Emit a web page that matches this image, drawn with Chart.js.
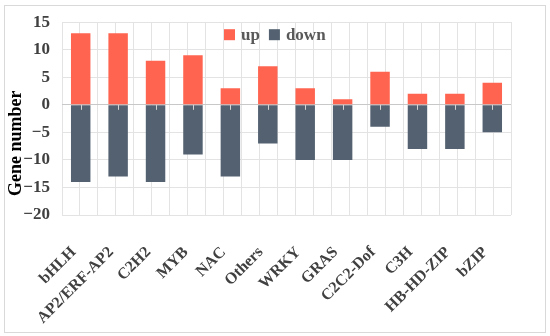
<!DOCTYPE html>
<html>
<head>
<meta charset="utf-8">
<script src="https://cdn.jsdelivr.net/npm/chart.js@4/dist/chart.umd.min.js"></script>
<style>
  html,body{margin:0;padding:0;background:#fff;}
  #wrap{position:relative;width:550px;height:336px;}
  #frame{position:absolute;left:4px;top:5px;width:540px;height:326px;border:1px solid #d9d9d9;pointer-events:none;}
</style>
</head>
<body>
<div id="wrap">
<canvas id="c" width="550" height="336"></canvas>
<div id="frame"></div>
</div>
<script>
const categories = ["bHLH","AP2/ERF-AP2","C2H2","MYB","NAC","Others","WRKY","GRAS","C2C2-Dof","C3H","HB-HD-ZIP","bZIP"];
const upValues   = [13, 13, 8, 9, 3, 7, 3, 1, 6, 2, 2, 4];
const downValues = [-14, -13, -14, -9, -13, -7, -10, -10, -4, -8, -8, -5];
const yTicks = [-20, -15, -10, -5, 0, 5, 10, 15];
const yTitle = 'Gene number';

const serif = "'Liberation Serif', 'Times New Roman', serif";
const gridColor = '#e3e3e3';

const extras = {
  id: 'extras',
  afterDatasetsDraw(chart) {
    const ctx = chart.ctx, a = chart.chartArea;
    const ys = chart.scales.y, xs = chart.scales.x;
    const y0 = ys.getPixelForValue(0);
    ctx.save();
    ctx.strokeStyle = '#d4d4d4';
    ctx.lineWidth = 1;
    categories.forEach((c, i) => {
      const x = Math.round(xs.getPixelForValue(i)) + 0.5;
      ctx.beginPath(); ctx.moveTo(x, y0); ctx.lineTo(x, y0 + 5); ctx.stroke();
    });
    ctx.font = "bold 17px " + serif;
    ctx.textBaseline = 'middle';
    ctx.textAlign = 'left';
    let x = a.left + 162;
    const yc = a.top + 13;
    chart.data.datasets.forEach(ds => {
      ctx.fillStyle = ds.backgroundColor;
      ctx.fillRect(x, yc - 6, 11, 11);
      x += 17;
      ctx.fillStyle = '#595959';
      ctx.fillText(ds.label, x, yc);
      x += ctx.measureText(ds.label).width + 9;
    });
    ctx.font = "bold 18px " + serif;
    ctx.fillStyle = '#000';
    ctx.textAlign = 'center';
    ctx.translate(16, a.top + 121);
    ctx.rotate(-Math.PI / 2);
    ctx.fillText(yTitle, 0, 0);
    ctx.restore();
  }
};

new Chart(document.getElementById('c'), {
  type: 'bar',
  data: {
    labels: categories,
    datasets: [
      { label: 'up', data: upValues, backgroundColor: '#ff6450', stack: 's', barPercentage: 0.52, categoryPercentage: 1.0 },
      { label: 'down', data: downValues, backgroundColor: '#536170', stack: 's', barPercentage: 0.52, categoryPercentage: 1.0 }
    ]
  },
  plugins: [extras],
  options: {
    responsive: false,
    animation: false,
    devicePixelRatio: 1,
    layout: { padding: { left: 0, right: 39, top: 18, bottom: 0 } },
    plugins: {
      tooltip: { enabled: false },
      legend: { display: false }
    },
    scales: {
      x: {
        stacked: true,
        grid: { display: false },
        border: { display: false },
        afterFit: (s) => { s.height = 121; },
        ticks: {
          minRotation: 45, maxRotation: 45, autoSkip: false,
          padding: 20,
          labelOffset: -7,
          color: '#404040',
          font: { family: serif, size: 16, weight: 'bold' }
        }
      },
      x2: {
        type: 'linear', min: 0, max: 24, position: 'top',
        afterFit: (s) => { s.height = 0; },
        ticks: { display: false, stepSize: 1 },
        grid: { color: gridColor, drawTicks: false },
        border: { display: false }
      },
      y: {
        stacked: true,
        min: -20, max: 15,
        afterFit: (s) => { s.width = 62; },
        afterBuildTicks: (s) => { s.ticks = yTicks.map(v => ({ value: v })); },
        grid: {
          color: (ctx) => ctx.tick && ctx.tick.value === 0 ? '#c8c8c8' : gridColor,
          drawTicks: false
        },
        border: { display: false },
        ticks: {
          padding: 12,
          color: '#404040',
          font: { family: serif, size: 17, weight: 'bold' },
          callback: (v) => v < 0 ? '\u2212' + Math.abs(v) : String(v)
        }
      }
    }
  }
});
</script>
</body>
</html>
